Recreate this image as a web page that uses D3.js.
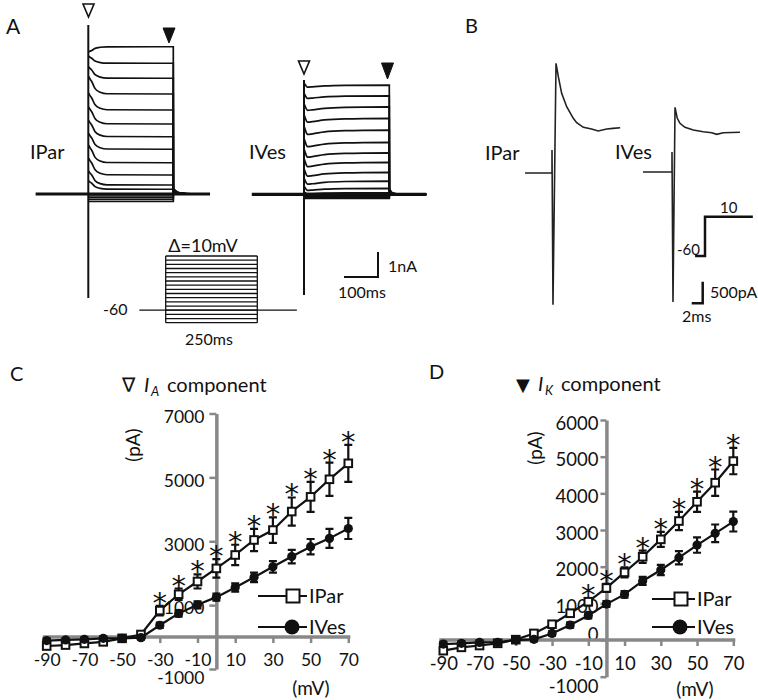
<!DOCTYPE html>
<html>
<head>
<meta charset="utf-8">
<script src="https://cdn.jsdelivr.net/npm/d3@7"></script>
<style>
  body { margin: 0; background: #fff; }
  text { font-family: Lato, "Open Sans", sans-serif; fill: #111; }
</style>
</head>
<body>
<svg id="fig" width="758" height="700"></svg>
<script>
var INK = '#111';
var AXIS_GREY = '#888';
var GLYPH_FONT = '"DejaVu Sans", sans-serif';

// ---- panel A: whole-cell currents (nA) for each voltage step ----
var stepMv = [-90, -80, -70, -60, -50, -40, -30, -20, -10, 0, 10, 20, 30, 40, 50, 60, 70];
var parSteady = [-0.3, -0.22, -0.15, -0.08, 0.0, 0.19, 0.36, 0.76, 1.25, 1.79, 2.29, 2.8, 3.36, 4.0, 4.63, 5.23, 5.89];
var parTransient = [0, 0, 0, 0, 0, 0.24, 0.4, 0.48, 0.5, 0.45, 0.47, 0.49, 0.48, 0.5, 0.33, 0.2, -0.15];
var vesSteady = [-0.16, -0.12, -0.08, -0.04, 0.0, 0.06, 0.24, 0.53, 0.88, 1.28, 1.66, 2.08, 2.57, 3.04, 3.5, 3.94, 4.37];
var vesTransient = [0, 0, 0, 0, 0, 0.05, 0.12, 0.18, 0.22, 0.25, 0.25, 0.25, 0.25, 0.22, 0.2, 0.15, 0.12];
// time course of the transient part (ms, fraction)
var parDecayT = [1, 5, 10, 20, 35, 55, 250];
var parDecayF = [1.4, 1.2, 1.0, 0.43, 0.14, 0.02, 0];
var vesDecayT = [1, 4, 10, 25, 60, 120, 250];
var vesDecayF = [0.5, 0, -0.7, -0.6, -0.3, -0.1, 0];
// tail after the step (ms after step end, fraction of steady current)
var parTailT = [0, 6, 14, 28, 50, 108];
var parTailF = [0.04, 0.024, 0.012, 0.005, 0.001, 0];
var vesTailT = [0, 4, 10, 22, 45, 108];
var vesTailF = [0.06, 0.03, 0.012, 0.004, 0.001, 0];
var parSpike = [6.76, -4.16];
var vesSpike = [4.57, -4.03];

// ---- panel B: single step to +10 mV (ms, pA) ----
var bParT = [-4.9, 0, 0, 0.18, 0.73, 1.15, 1.76, 2.67, 3.87, 4.49, 5.7, 7.2, 8.4, 9.95, 11.1, 12.4];
var bParI = [0, 0, 530, -3050, 2540, 2230, 1845, 1535, 1266, 1164, 1057, 1018, 972, 1018, 1034, 1049];
var bVesT = [-5.27, 0, 0, 0.18, 0.55, 0.96, 1.45, 2.36, 3.87, 5.69, 7.22, 8.13, 9.33, 12.36];
var bVesI = [0, 0, 463, -3010, 1498, 1243, 1127, 1035, 972, 933, 910, 872, 910, 919];

// ---- panels C, D: I-V relations (pA) ----
var ivMv = [-90, -80, -70, -60, -50, -40, -30, -20, -10, 0, 10, 20, 30, 40, 50, 60, 70];
var iaPar = [-280, -250, -200, -150, -40, 80, 830, 1340, 1740, 2150, 2570, 3040, 3350, 3930, 4390, 4940, 5440];
var iaParErr = [80, 80, 80, 80, 80, 100, 150, 180, 220, 290, 320, 350, 400, 440, 470, 520, 580];
var iaVes = [-110, -90, -70, -40, -40, -20, 370, 740, 1010, 1250, 1550, 1870, 2200, 2520, 2830, 3090, 3400];
var iaVesErr = [60, 60, 60, 60, 60, 60, 80, 100, 110, 110, 130, 150, 180, 210, 240, 300, 330];
var iaStars = [-30, -20, -10, 0, 10, 20, 30, 40, 50, 60, 70];
var ikPar = [-290, -200, -150, -90, 10, 180, 430, 730, 1045, 1420, 1845, 2270, 2745, 3245, 3770, 4290, 4880];
var ikParErr = [70, 70, 70, 70, 70, 70, 80, 90, 100, 110, 140, 170, 205, 250, 275, 360, 360];
var ikVes = [-110, -90, -65, -60, 0, 20, 180, 410, 670, 980, 1245, 1610, 1910, 2245, 2590, 2910, 3230];
var ikVesErr = [60, 60, 60, 60, 60, 60, 60, 70, 80, 80, 90, 110, 140, 180, 210, 240, 270];
var ikStars = [-10, 0, 10, 20, 30, 40, 50, 60, 70];
var xTicks = [-90, -70, -50, -30, -10, 10, 30, 50, 70];
var iaTicks = [-1000, 1000, 3000, 5000, 7000];
var ikTicks = [-1000, 0, 1000, 2000, 3000, 4000, 5000, 6000];

var svg = d3.select('#fig');

function label(x, y, s, size, anchor) {
    return svg.append('text')
        .attr('x', x)
        .attr('y', y)
        .attr('font-size', size)
        .attr('text-anchor', anchor || 'start')
        .text(s);
}

function triangle(cx, top, w, h, filled) {
    svg.append('path')
        .attr('d', 'M' + (cx - w / 2) + ',' + top + 'L' + (cx + w / 2) + ',' + top + 'L' + cx + ',' + (top + h) + 'Z')
        .attr('fill', filled ? INK : '#fff')
        .attr('stroke', INK)
        .attr('stroke-width', filled ? 1 : 1.6);
}

// ===== Panel A =====
function drawCell(o) {
    var g = svg.append('g');
    var x = d3.scaleLinear().domain([0, 250]).range(o.xRange);
    var y = d3.scaleLinear().domain([0, 1]).range([o.base, o.base - 25]);
    var curve = d3.line()
        .x(function (d) { return x(d[0]); })
        .y(function (d) { return y(d[1]); })
        .curve(d3.curveMonotoneX);
    g.append('line')
        .attr('x1', x(o.from)).attr('x2', x(o.to))
        .attr('y1', y(0)).attr('y2', y(0))
        .attr('stroke', INK).attr('stroke-width', 3.2);
    o.steady.forEach(function (s, i) {
        var a = o.transient[i];
        var stepPts = o.decayT.map(function (t, k) { return [t, s + a * o.decayF[k]]; });
        var tailPts = o.tailT.map(function (t, k) { return [250 + t, s * o.tailF[k]]; });
        g.append('path')
            .attr('d', curve(stepPts) + curve(tailPts).replace(/^M/, 'L'))
            .attr('fill', 'none')
            .attr('stroke', INK)
            .attr('stroke-width', 1.7);
    });
    g.append('line')
        .attr('x1', x(0)).attr('x2', x(0))
        .attr('y1', y(o.spike[0])).attr('y2', y(o.spike[1]))
        .attr('stroke', INK).attr('stroke-width', 2);
    return { x: x, y: y };
}

var cellPar = drawCell({ xRange: [88.3, 173.3], base: 194, from: -155, to: 358,
    steady: parSteady, transient: parTransient, decayT: parDecayT, decayF: parDecayF,
    tailT: parTailT, tailF: parTailF, spike: parSpike });
var cellVes = drawCell({ xRange: [304, 389.3], base: 194.3, from: -153, to: 358,
    steady: vesSteady, transient: vesTransient, decayT: vesDecayT, decayF: vesDecayF,
    tailT: vesTailT, tailF: vesTailF, spike: vesSpike });

triangle(88.5, 4, 11, 13, false);
triangle(169, 28, 12, 15, true);
triangle(304, 61, 11, 13, false);
triangle(387.5, 63, 12, 16, true);

label(6, 34, 'A', 21);
label(30, 159, 'IPar', 20);
label(249, 159, 'IVes', 20);

// scale bar 1 nA / 100 ms
var sbx = 378, sby = 277;
svg.append('path')
    .attr('d', 'M' + (sbx - (cellPar.x(100) - cellPar.x(0))) + ',' + sby + 'H' + sbx + 'V' + (sby - (cellPar.y(0) - cellPar.y(1))))
    .attr('fill', 'none').attr('stroke', INK).attr('stroke-width', 2);
label(388, 272, '1nA', 16);
label(338, 298, '100ms', 16);

// voltage protocol
var px = d3.scaleLinear().domain([0, 250]).range([165.7, 257.3]);
var py = d3.scaleLinear().domain([-90, 70]).range([322.7, 256]);
var proto = svg.append('g').attr('stroke', INK).attr('stroke-width', 1.3);
proto.append('line').attr('x1', px(-72)).attr('x2', px(358)).attr('y1', py(-60)).attr('y2', py(-60));
proto.selectAll('.step').data(stepMv).enter().append('line')
    .attr('x1', px(0)).attr('x2', px(250))
    .attr('y1', function (d) { return py(d); })
    .attr('y2', function (d) { return py(d); });
[0, 250].forEach(function (t) {
    proto.append('line').attr('x1', px(t)).attr('x2', px(t)).attr('y1', py(-90)).attr('y2', py(70));
});
label(203, 252, '\u0394=10mV', 18, 'middle');
label(103, 315, '-60', 16);
label(209, 345, '250ms', 16, 'middle');

// ===== Panel B =====
var bx = d3.scaleLinear().domain([0, 1]).range([0, 5.5]);
var by = d3.scaleLinear().domain([0, 500]).range([0, -21.6]);
var bLine = d3.line()
    .x(function (d) { return bx(d[0]); })
    .y(function (d) { return by(d[1]); });
[[552, 173, bParT, bParI], [672, 172, bVesT, bVesI]].forEach(function (c) {
    svg.append('path')
        .attr('transform', 'translate(' + c[0] + ',' + c[1] + ')')
        .attr('d', bLine(c[2].map(function (t, i) { return [t, c[3][i]]; })))
        .attr('fill', 'none')
        .attr('stroke', '#222')
        .attr('stroke-width', 1.6);
});
label(465, 33, 'B', 20);
label(485, 160, 'IPar', 20);
label(615, 159, 'IVes', 20);

// step -60 -> 10 mV
var bStepMv = [-60, -60, 10, 10];
var bStepT = [-1.8, 0, 0, 8.7];
var bsy = d3.scaleLinear().domain([-60, 10]).range([256, 216.7]);
svg.append('path')
    .attr('d', d3.line()
        .x(function (d) { return 705 + bx(d[0]); })
        .y(function (d) { return bsy(d[1]); })(bStepT.map(function (t, i) { return [t, bStepMv[i]]; })))
    .attr('fill', 'none').attr('stroke', INK).attr('stroke-width', 2.5);
label(677, 255, '-60', 15);
label(720, 213, '10', 15);

// scale bar 500 pA / 2 ms
svg.append('path')
    .attr('d', 'M' + (702.7 - bx(2)) + ',303.3H702.7V' + (303.3 + by(500)))
    .attr('fill', 'none').attr('stroke', INK).attr('stroke-width', 2.5);
label(710, 298, '500pA', 16);
label(682, 322, '2ms', 16);

// ===== Panels C, D =====
function ivChart(o) {
    var g = svg.append('g');
    var x = d3.scaleLinear().domain([-90, 70]).range(o.xRange);
    var y = d3.scaleLinear().domain(o.yDomain).range(o.yRange);

    var ya = g.append('g')
        .attr('transform', 'translate(' + x(0) + ',0)')
        .call(d3.axisLeft(y).tickValues(o.yTicks).tickSize(o.tickY).tickSizeOuter(0)
            .tickPadding(o.padY).tickFormat(function (d) { return String(d); }));
    ya.select('.domain').attr('stroke', AXIS_GREY).attr('stroke-width', 3.5);
    ya.selectAll('.tick line').attr('stroke', AXIS_GREY).attr('stroke-width', 2.5);
    // Excel pushed the bottom label down and the zero label up
    ya.selectAll('.tick text').attr('font-size', o.fs)
        .attr('dy', function (d) { return d === 0 ? '0em' : d === -1000 ? '0.85em' : '0.5em'; });
    ya.attr('font-family', null);

    var xa = g.append('g')
        .attr('transform', 'translate(0,' + y(0) + ')')
        .call(d3.axisBottom(x).tickValues(xTicks).tickSize(6).tickSizeOuter(0)
            .tickPadding(11).tickFormat(function (d) { return String(d); }));
    xa.select('.domain').remove();
    xa.insert('line', ':first-child')
        .attr('x1', x(-90) - 4).attr('x2', x(70) + 2)
        .attr('stroke', AXIS_GREY).attr('stroke-width', 3.5);
    xa.selectAll('.tick line').attr('stroke', AXIS_GREY).attr('stroke-width', 2.5);
    xa.selectAll('.tick text').attr('font-size', o.fs);
    xa.attr('font-family', null);

    var line = d3.line()
        .x(function (d, i) { return x(ivMv[i]); })
        .y(function (d) { return y(d); });

    function series(vals, errs, marker) {
        var s = g.append('g');
        s.append('path').attr('d', line(vals))
            .attr('fill', 'none').attr('stroke', INK).attr('stroke-width', 2.2);
        vals.forEach(function (v, i) {
            var cx = x(ivMv[i]);
            var e = errs[i];
            s.append('path')
                .attr('d', 'M' + cx + ',' + y(v - e) + 'V' + y(v + e) +
                    'M' + (cx - 4) + ',' + y(v - e) + 'H' + (cx + 4) +
                    'M' + (cx - 4) + ',' + y(v + e) + 'H' + (cx + 4))
                .attr('fill', 'none').attr('stroke', INK).attr('stroke-width', 2.2);
        });
        vals.forEach(function (v, i) {
            var cx = x(ivMv[i]), cy = y(v);
            if (marker === 'square') {
                s.append('rect').attr('x', cx - 3.8).attr('y', cy - 3.8)
                    .attr('width', 7.6).attr('height', 7.6)
                    .attr('fill', '#fff').attr('stroke', INK).attr('stroke-width', 2);
            } else {
                s.append('circle').attr('cx', cx).attr('cy', cy).attr('r', 4.6).attr('fill', INK);
            }
        });
    }
    series(o.par, o.parErr, 'square');
    series(o.ves, o.vesErr, 'circle');

    o.stars.forEach(function (mv) {
        var i = ivMv.indexOf(mv);
        g.append('text')
            .attr('x', x(mv))
            .attr('y', y(o.par[i] + o.parErr[i]) + 7)
            .attr('text-anchor', 'middle')
            .attr('font-size', 29)
            .style('font-family', GLYPH_FONT)
            .text('*');
    });

    // legend
    var lg = g.append('g');
    [['IPar', 'square', o.legY[0]], ['IVes', 'circle', o.legY[1]]].forEach(function (l) {
        lg.append('line').attr('x1', o.legX[0]).attr('x2', o.legX[1])
            .attr('y1', l[2]).attr('y2', l[2])
            .attr('stroke', INK).attr('stroke-width', 2.2);
        var mx = o.legX[1] - 14;
        if (l[1] === 'square') {
            lg.append('rect').attr('x', mx - 6.5).attr('y', l[2] - 6.5).attr('width', 13).attr('height', 13)
                .attr('fill', '#fff').attr('stroke', INK).attr('stroke-width', 2);
        } else {
            lg.append('circle').attr('cx', mx - 1).attr('cy', l[2]).attr('r', 7.5).attr('fill', INK);
        }
        lg.append('text').attr('x', o.legX[1] + 2).attr('y', l[2] + 7).attr('font-size', 20).text(l[0]);
    });

    // titles
    label(o.letter[1], o.letter[2], o.letter[0], 20);
    svg.append('text').attr('x', o.title.x).attr('y', o.title.y)
        .attr('font-size', o.title.gs).style('font-family', GLYPH_FONT).text(o.title.glyph);
    svg.append('text').attr('x', o.title.x + 22).attr('y', o.title.y)
        .attr('font-size', 20).attr('font-style', 'italic').text('I');
    svg.append('text').attr('x', o.title.x + 29).attr('y', o.title.y + 4)
        .attr('font-size', 13).attr('font-style', 'italic').text(o.title.sub);
    label(o.title.x + 45, o.title.y, 'component', 20);
    svg.append('text')
        .attr('transform', 'translate(' + o.pA[0] + ',' + o.pA[1] + ') rotate(-90)')
        .attr('text-anchor', 'middle').attr('dy', '0.35em')
        .attr('font-size', 19).text('(pA)');
    label(o.mV[0], o.mV[1], '(mV)', 19, 'middle');
}

ivChart({
    xRange: [46.7, 348.3], yDomain: [-1000, 7000], yRange: [669, 413.5],
    yTicks: iaTicks, tickY: 7, padY: 5, fs: 17.5,
    par: iaPar, parErr: iaParErr, ves: iaVes, vesErr: iaVesErr, stars: iaStars,
    legX: [258, 307], legY: [596, 627],
    letter: ['C', 10, 381], title: { x: 122, y: 392, glyph: '\u2207', gs: 20, sub: 'A' },
    pA: [133, 445], mV: [311, 695]
});
ivChart({
    xRange: [443.3, 733.3], yDomain: [-1000, 6000], yRange: [676.7, 420],
    yTicks: ikTicks, tickY: 6, padY: 2, fs: 18.5,
    par: ikPar, parErr: ikParErr, ves: ikVes, vesErr: ikVesErr, stars: ikStars,
    legX: [652, 695], legY: [599, 627],
    letter: ['D', 429, 379], title: { x: 516, y: 391, glyph: '\u25BC', gs: 18, sub: 'K' },
    pA: [535, 448], mV: [695, 696]
});
</script>
</body>
</html>
